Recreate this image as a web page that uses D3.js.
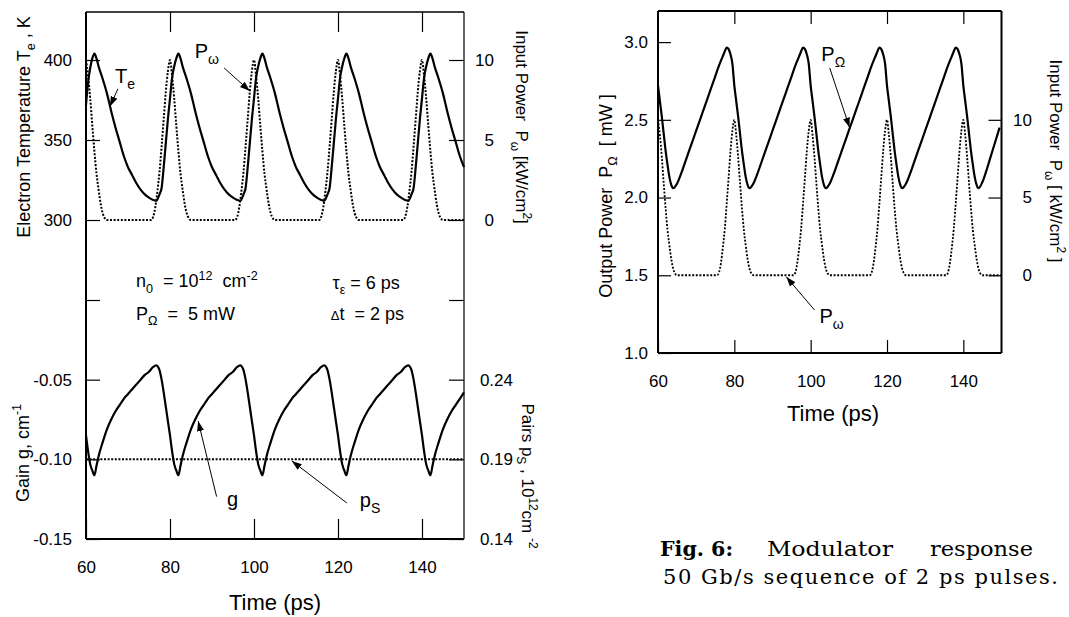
<!DOCTYPE html>
<html>
<head>
<meta charset="utf-8">
<script src="https://cdn.jsdelivr.net/npm/d3@7"></script>
<style>
body { margin: 0; background: #fff; }
svg { display: block; font-family: "Liberation Sans", Arial, sans-serif; }
text { white-space: pre; fill: #000; }
.tick line { stroke: #000; stroke-width: 1.2; }
.tick text { font-family: "Liberation Sans", Arial, sans-serif; font-size: 17px; fill: #000; }
</style>
</head>
<body>
<svg id="chart" width="1069" height="617"></svg>
<script>
// tick values
var timeTicks = [60, 80, 100, 120, 140];
var tempTicks = [300, 350, 400];
var gainTicks = [-0.15, -0.10, -0.05, 0];
var inputTicks = [0, 5, 10];
var pairTicks = [0.14, 0.19, 0.24, 0.29];
var outTicks = [1.0, 1.5, 2.0, 2.5, 3.0];

// electron temperature Te (K) vs time (ps)
var electronTemp = [
  [60,372],[60.5,386],[61,395],[61.5,401],
  [62,404],[62.5,401],[63,396],[64,388],[65,379],[66,368],[67,358],[68,349],[69,340],[70,333],[71,328],[72,323],[73,319],[74,316],[75,314],[76,312.5],[76.7,312],[77.5,316],[78,320],[78.5,333],[79,348],[79.5,363],[80,376],[80.5,389],[81,396],[81.5,401],
  [82,404],[82.5,401],[83,396],[84,388],[85,379],[86,368],[87,358],[88,349],[89,340],[90,333],[91,328],[92,323],[93,319],[94,316],[95,314],[96,312.5],[96.7,312],[97.5,316],[98,320],[98.5,333],[99,348],[99.5,363],[100,376],[100.5,389],[101,396],[101.5,401],
  [102,404],[102.5,401],[103,396],[104,388],[105,379],[106,368],[107,358],[108,349],[109,340],[110,333],[111,328],[112,323],[113,319],[114,316],[115,314],[116,312.5],[116.7,312],[117.5,316],[118,320],[118.5,333],[119,348],[119.5,363],[120,376],[120.5,389],[121,396],[121.5,401],
  [122,404],[122.5,401],[123,396],[124,388],[125,379],[126,368],[127,358],[128,349],[129,340],[130,333],[131,328],[132,323],[133,319],[134,316],[135,314],[136,312.5],[136.7,312],[137.5,316],[138,320],[138.5,333],[139,348],[139.5,363],[140,376],[140.5,389],[141,396],[141.5,401],
  [142,404],[142.5,401],[143,396],[144,388],[145,379],[146,368],[147,358],[148,349],[149,340],[150,333]
];

// input pulse power P_omega (kW/cm2), used in both panels
var inputPulse = [
  [60,10],[60.5,9.0],[61,7.6],[61.5,5.9],[62,4.3],[62.5,2.9],[63,1.9],[63.5,1.0],[64,0.4],[64.5,0.1],[65,0],
  [75.5,0],[76,0.2],[76.5,0.8],[77,1.8],[77.5,3.0],[78,4.6],[78.5,6.3],[79,8.0],[79.5,9.3],[80,10],
  [80.5,9.0],[81,7.6],[81.5,5.9],[82,4.3],[82.5,2.9],[83,1.9],[83.5,1.0],[84,0.4],[84.5,0.1],[85,0],
  [95.5,0],[96,0.2],[96.5,0.8],[97,1.8],[97.5,3.0],[98,4.6],[98.5,6.3],[99,8.0],[99.5,9.3],[100,10],
  [100.5,9.0],[101,7.6],[101.5,5.9],[102,4.3],[102.5,2.9],[103,1.9],[103.5,1.0],[104,0.4],[104.5,0.1],[105,0],
  [115.5,0],[116,0.2],[116.5,0.8],[117,1.8],[117.5,3.0],[118,4.6],[118.5,6.3],[119,8.0],[119.5,9.3],[120,10],
  [120.5,9.0],[121,7.6],[121.5,5.9],[122,4.3],[122.5,2.9],[123,1.9],[123.5,1.0],[124,0.4],[124.5,0.1],[125,0],
  [135.5,0],[136,0.2],[136.5,0.8],[137,1.8],[137.5,3.0],[138,4.6],[138.5,6.3],[139,8.0],[139.5,9.3],[140,10],
  [140.5,9.0],[141,7.6],[141.5,5.9],[142,4.3],[142.5,2.9],[143,1.9],[143.5,1.0],[144,0.4],[144.5,0.1],[145,0],[150,0]
];

// gain g (1/cm)
var gain = [
  [60,-0.085],[60.5,-0.095],[61,-0.103],[61.5,-0.107],
  [62,-0.110],[62.5,-0.104],[63,-0.098],[64,-0.089],[65,-0.081],[66,-0.075],[67,-0.070],[68,-0.066],[69,-0.062],[70,-0.059],[71,-0.056],[72,-0.053],[73,-0.050],[74,-0.047],[75,-0.045],[76,-0.042],[76.7,-0.041],[77.5,-0.044],[78,-0.050],[78.5,-0.058],[79,-0.067],[79.5,-0.076],[80,-0.085],[80.5,-0.095],[81,-0.103],[81.5,-0.107],
  [82,-0.110],[82.5,-0.104],[83,-0.098],[84,-0.089],[85,-0.081],[86,-0.075],[87,-0.070],[88,-0.066],[89,-0.062],[90,-0.059],[91,-0.056],[92,-0.053],[93,-0.050],[94,-0.047],[95,-0.045],[96,-0.042],[96.7,-0.041],[97.5,-0.044],[98,-0.050],[98.5,-0.058],[99,-0.067],[99.5,-0.076],[100,-0.085],[100.5,-0.095],[101,-0.103],[101.5,-0.107],
  [102,-0.110],[102.5,-0.104],[103,-0.098],[104,-0.089],[105,-0.081],[106,-0.075],[107,-0.070],[108,-0.066],[109,-0.062],[110,-0.059],[111,-0.056],[112,-0.053],[113,-0.050],[114,-0.047],[115,-0.045],[116,-0.042],[116.7,-0.041],[117.5,-0.044],[118,-0.050],[118.5,-0.058],[119,-0.067],[119.5,-0.076],[120,-0.085],[120.5,-0.095],[121,-0.103],[121.5,-0.107],
  [122,-0.110],[122.5,-0.104],[123,-0.098],[124,-0.089],[125,-0.081],[126,-0.075],[127,-0.070],[128,-0.066],[129,-0.062],[130,-0.059],[131,-0.056],[132,-0.053],[133,-0.050],[134,-0.047],[135,-0.045],[136,-0.042],[136.7,-0.041],[137.5,-0.044],[138,-0.050],[138.5,-0.058],[139,-0.067],[139.5,-0.076],[140,-0.085],[140.5,-0.095],[141,-0.103],[141.5,-0.107],
  [142,-0.110],[142.5,-0.104],[143,-0.098],[144,-0.089],[145,-0.081],[146,-0.075],[147,-0.070],[148,-0.066],[149,-0.062],[150,-0.058]
];

// pair density pS (1e12 cm-2)
var pairs = [[60,0.19],[150,0.19]];

// output power P_Omega (mW)
var outputPower = [
  [60,2.72],[60.5,2.62],[61,2.52],[61.5,2.41],[62,2.30],[62.5,2.21],[63,2.13],[63.5,2.08],
  [64,2.06],[65,2.09],[66,2.15],[67,2.22],[68,2.29],[69,2.36],[70,2.43],[71,2.50],[72,2.57],[73,2.64],[74,2.71],[75,2.78],[76,2.85],[77,2.91],[77.5,2.94],[78,2.965],[78.5,2.955],[79,2.92],[79.5,2.86],[80,2.72],[80.5,2.62],[81,2.52],[81.5,2.41],[82,2.30],[82.5,2.21],[83,2.13],[83.5,2.08],
  [84,2.06],[85,2.09],[86,2.15],[87,2.22],[88,2.29],[89,2.36],[90,2.43],[91,2.50],[92,2.57],[93,2.64],[94,2.71],[95,2.78],[96,2.85],[97,2.91],[97.5,2.94],[98,2.965],[98.5,2.955],[99,2.92],[99.5,2.86],[100,2.72],[100.5,2.62],[101,2.52],[101.5,2.41],[102,2.30],[102.5,2.21],[103,2.13],[103.5,2.08],
  [104,2.06],[105,2.09],[106,2.15],[107,2.22],[108,2.29],[109,2.36],[110,2.43],[111,2.50],[112,2.57],[113,2.64],[114,2.71],[115,2.78],[116,2.85],[117,2.91],[117.5,2.94],[118,2.965],[118.5,2.955],[119,2.92],[119.5,2.86],[120,2.72],[120.5,2.62],[121,2.52],[121.5,2.41],[122,2.30],[122.5,2.21],[123,2.13],[123.5,2.08],
  [124,2.06],[125,2.09],[126,2.15],[127,2.22],[128,2.29],[129,2.36],[130,2.43],[131,2.50],[132,2.57],[133,2.64],[134,2.71],[135,2.78],[136,2.85],[137,2.91],[137.5,2.94],[138,2.965],[138.5,2.955],[139,2.92],[139.5,2.86],[140,2.72],[140.5,2.62],[141,2.52],[141.5,2.41],[142,2.30],[142.5,2.21],[143,2.13],[143.5,2.08],
  [144,2.06],[145,2.10],[146,2.17],[147,2.25],[148,2.33],[149,2.41],[149.5,2.45]
];

var svg = d3.select("#chart");

// panel boxes
var L = {x0: 86, x1: 464, top: 12, mid: 300, bot: 539};
var R = {x0: 658, x1: 1001.5, top: 11, bot: 353};

var xL = d3.scaleLinear().domain([60, 150]).range([L.x0, L.x1]);
var yTemp = d3.scaleLinear().domain([250, 430]).range([L.mid, L.top]);
var yPin = d3.scaleLinear().domain([-5, 13]).range([L.mid, L.top]);
var yGain = d3.scaleLinear().domain([-0.15, 0]).range([L.bot, L.mid]);
var yPairs = d3.scaleLinear().domain([0.14, 0.29]).range([L.bot, L.mid]);

var xR = d3.scaleLinear().domain([60, 150]).range([R.x0, R.x1]);
var yOut = d3.scaleLinear().domain([1.0, 3.2]).range([R.bot, R.top]);
var yPinR = d3.scaleLinear().domain([-5, 17]).range([R.bot, R.top]);

// text with sub/superscripts
function rich(text, parts, size) {
    var shift = 0;
    parts.forEach(function(p) {
        var s = p[1] === "sub" ? 0.3 * size : p[1] === "sup" ? -0.42 * size : 0;
        text.append("tspan")
            .attr("dy", s - shift)
            .attr("font-size", p[1] ? size * 0.7 : size)
            .text(p[0]);
        shift = s;
    });
    return text;
}

svg.append("defs").append("marker")
    .attr("id", "head")
    .attr("viewBox", "0 -4 10 8")
    .attr("markerUnits", "userSpaceOnUse")
    .attr("markerWidth", 10).attr("markerHeight", 8)
    .attr("refX", 10).attr("refY", 0)
    .attr("orient", "auto")
    .append("path").attr("d", "M0,-3.5L10,0L0,3.5Z").attr("fill", "#000");

function frame(x0, x1, y0, y1, w) {
    var f = svg.append("g").attr("stroke", "#000").attr("fill", "none");
    f.append("line").attr("x1", x0).attr("x2", x1).attr("y1", y0).attr("y2", y0).attr("stroke-width", w[0]);
    f.append("line").attr("x1", x1).attr("x2", x1).attr("y1", y0).attr("y2", y1).attr("stroke-width", w[1]);
    f.append("line").attr("x1", x0).attr("x2", x1).attr("y1", y1).attr("y2", y1).attr("stroke-width", w[2]);
    f.append("line").attr("x1", x0).attr("x2", x0).attr("y1", y0).attr("y2", y1).attr("stroke-width", w[3]);
}

function noDomain(g) { g.select(".domain").remove(); }

// ---------- left panel ----------
frame(L.x0, L.x1, L.top, L.bot, [1.4, 1.2, 2, 2]);

svg.append("g").attr("transform", "translate(" + L.x0 + ",0)")
    .call(d3.axisLeft(yTemp).tickValues(tempTicks).tickSizeInner(-14).tickSizeOuter(0).tickPadding(14))
    .call(noDomain);
svg.append("g").attr("transform", "translate(" + L.x0 + ",0)")
    .call(d3.axisLeft(yGain).tickValues(gainTicks).tickSizeInner(-14).tickSizeOuter(0).tickPadding(14)
        .tickFormat(function(d) { return d === 0 ? "" : d.toFixed(2); }))
    .call(noDomain);
svg.append("g").attr("transform", "translate(" + L.x1 + ",0)")
    .call(d3.axisRight(yPin).tickValues(inputTicks).tickSizeInner(-15).tickSizeOuter(0))
    .call(noDomain)
    .call(function(g) { g.selectAll("text").attr("text-anchor", "end").attr("x", 30); });
svg.append("g").attr("transform", "translate(" + L.x1 + ",0)")
    .call(d3.axisRight(yPairs).tickValues(pairTicks).tickSizeInner(-15).tickSizeOuter(0)
        .tickFormat(function(d) { return d > 0.28 ? "" : d.toFixed(2); }))
    .call(noDomain)
    .call(function(g) { g.selectAll("text").attr("text-anchor", "end").attr("x", 49); });
svg.append("g").attr("transform", "translate(0," + L.top + ")")
    .call(d3.axisTop(xL).tickValues(timeTicks.slice(1)).tickSizeInner(-20).tickSizeOuter(0).tickFormat(""))
    .call(noDomain);
svg.append("g").attr("transform", "translate(0," + L.bot + ")")
    .call(d3.axisBottom(xL).tickValues(timeTicks).tickSizeInner(-20).tickSizeOuter(0).tickPadding(22))
    .call(noDomain);

var solid = function(sel) { return sel.attr("fill", "none").attr("stroke", "#000").attr("stroke-width", 2.2).attr("stroke-linejoin", "round"); };
var dotted = function(sel) { return sel.attr("fill", "none").attr("stroke", "#000").attr("stroke-width", 2).attr("stroke-dasharray", "2,1.6"); };

svg.append("path").datum(inputPulse).call(dotted)
    .attr("d", d3.line().x(function(d) { return xL(d[0]); }).y(function(d) { return yPin(d[1]); }).curve(d3.curveMonotoneX));
svg.append("path").datum(electronTemp).call(solid)
    .attr("d", d3.line().x(function(d) { return xL(d[0]); }).y(function(d) { return yTemp(d[1]); }).curve(d3.curveMonotoneX));
svg.append("path").datum(pairs).call(dotted)
    .attr("d", d3.line().x(function(d) { return xL(d[0]); }).y(function(d) { return yPairs(d[1]); }));
svg.append("path").datum(gain).call(solid)
    .attr("d", d3.line().x(function(d) { return xL(d[0]); }).y(function(d) { return yGain(d[1]); }).curve(d3.curveMonotoneX));

function arrow(x, y, tail, tip) {
    svg.append("line")
        .attr("x1", x(tail[0])).attr("y1", y(tail[1]))
        .attr("x2", x(tip[0])).attr("y2", y(tip[1]))
        .attr("stroke", "#000").attr("stroke-width", 1)
        .attr("marker-end", "url(#head)");
}
function label(x, y, at, parts, anchor) {
    rich(svg.append("text").attr("x", x(at[0])).attr("y", y(at[1]))
        .attr("text-anchor", anchor || "start"), parts, 20);
}

label(xL, yTemp, [66.9, 385.5], [["T"], ["e", "sub"]]);
arrow(xL, yTemp, [67.6, 382], [65.7, 371]);
label(xL, yTemp, [85.9, 401.2], [["P"], ["ω", "sub"]]);
arrow(xL, yTemp, [92.9, 395], [99.0, 380.6]);
label(xL, yGain, [94.9, -0.1293], [["g"]], "middle");
arrow(xL, yGain, [91.1, -0.1234], [86.7, -0.076]);
label(xL, yGain, [125.2, -0.1299], [["p"], ["S", "sub"]]);
arrow(xL, yGain, [122.1, -0.1274], [109, -0.101]);

// parameters block
var params = svg.append("g").attr("font-size", 18);
rich(params.append("text").attr("x", xL(71.9)).attr("y", yTemp(258)),
    [["n"], ["0", "sub"], ["  = 10"], ["12", "sup"], ["  cm"], ["-2", "sup"]], 18);
rich(params.append("text").attr("x", xL(71.9)).attr("y", yGain(-0.0125)),
    [["P"], ["Ω", "sub"], ["  =  5 mW"]], 18);
rich(params.append("text").attr("x", xL(118.7)).attr("y", yTemp(257)),
    [["τ"], ["ε", "sub"], [" = 6 ps"]], 18);
params.append("text").attr("x", xL(118.3)).attr("y", yGain(-0.0125))
    .call(function(t) {
        t.append("tspan").attr("font-size", 13).text("Δ");
        t.append("tspan").attr("font-size", 18).text("t  = 2 ps");
    });

// axis titles
rich(svg.append("text").attr("transform", "translate(30,127) rotate(-90)").attr("text-anchor", "middle"),
    [["Electron Temperature T"], ["e", "sub"], [" , K"]], 18);
rich(svg.append("text").attr("transform", "translate(29,453) rotate(-90)").attr("text-anchor", "middle"),
    [["Gain g, cm"], ["-1", "sup"]], 18);
rich(svg.append("text").attr("transform", "translate(516,127) rotate(90)").attr("text-anchor", "middle"),
    [["Input Power  P"], ["ω", "sub"], [" [kW/cm"], ["2", "sup"], ["]"]], 17);
rich(svg.append("text").attr("transform", "translate(522,476) rotate(90)").attr("text-anchor", "middle"),
    [["Pairs p"], ["S", "sub"], [" , 10"], ["12", "sup"], ["cm "], ["-2", "sup"]], 17);
svg.append("text").attr("x", (L.x0 + L.x1) / 2).attr("y", 610)
    .attr("text-anchor", "middle").attr("font-size", 22).text("Time (ps)");

// ---------- right panel ----------
frame(R.x0, R.x1, R.top, R.bot, [2, 2, 2, 2]);

svg.append("g").attr("transform", "translate(" + R.x0 + ",0)")
    .call(d3.axisLeft(yOut).tickValues(outTicks).tickSizeInner(-13).tickSizeOuter(0).tickPadding(10)
        .tickFormat(function(d) { return d.toFixed(1); }))
    .call(noDomain);
svg.append("g").attr("transform", "translate(" + R.x1 + ",0)")
    .call(d3.axisRight(yPinR).tickValues(inputTicks).tickSizeInner(-13).tickSizeOuter(0))
    .call(noDomain)
    .call(function(g) { g.selectAll("text").attr("text-anchor", "end").attr("x", 30.5); });
svg.append("g").attr("transform", "translate(0," + R.top + ")")
    .call(d3.axisTop(xR).tickValues(timeTicks.slice(1)).tickSizeInner(-13).tickSizeOuter(0).tickFormat(""))
    .call(noDomain);
svg.append("g").attr("transform", "translate(0," + R.bot + ")")
    .call(d3.axisBottom(xR).tickValues(timeTicks).tickSizeInner(-13).tickSizeOuter(0).tickPadding(22))
    .call(noDomain);

svg.append("path").datum(inputPulse).call(dotted).attr("stroke-width", 1.8)
    .attr("d", d3.line().x(function(d) { return xR(d[0]); }).y(function(d) { return yPinR(d[1]); }).curve(d3.curveMonotoneX));
svg.append("path").datum(outputPower).call(solid)
    .attr("d", d3.line().x(function(d) { return xR(d[0]); }).y(function(d) { return yOut(d[1]); }).curve(d3.curveMonotoneX));

label(xR, yOut, [102.8, 2.878], [["P"], ["Ω", "sub"]]);
arrow(xR, yOut, [105.0, 2.833], [110.2, 2.45]);
label(xR, yOut, [102.3, 1.193], [["P"], ["ω", "sub"]]);
arrow(xR, yOut, [101.0, 1.277], [93.6, 1.49]);

rich(svg.append("text").attr("transform", "translate(612,196) rotate(-90)").attr("text-anchor", "middle"),
    [["Output Power  P"], ["Ω", "sub"], ["  [ mW ]"]], 18);
rich(svg.append("text").attr("transform", "translate(1050,161) rotate(90)").attr("text-anchor", "middle"),
    [["Input Power  P"], ["ω", "sub"], [" [ kW/cm"], ["2", "sup"], [" ]"]], 17);
svg.append("text").attr("x", 833).attr("y", 421)
    .attr("text-anchor", "middle").attr("font-size", 22).text("Time (ps)");

// caption
var cap = svg.append("g").attr("font-family", "'DejaVu Serif', 'Liberation Serif', serif").attr("font-size", 21);
cap.append("text").attr("x", 660).attr("y", 556).attr("font-weight", "bold")
    .attr("textLength", 73).attr("lengthAdjust", "spacingAndGlyphs").text("Fig. 6:");
cap.append("text").attr("x", 767).attr("y", 556)
    .attr("textLength", 126).attr("lengthAdjust", "spacingAndGlyphs").text("Modulator");
cap.append("text").attr("x", 930).attr("y", 556)
    .attr("textLength", 103).attr("lengthAdjust", "spacingAndGlyphs").text("response");
cap.append("text").attr("x", 663).attr("y", 584)
    .attr("textLength", 395).attr("lengthAdjust", "spacing").text("50 Gb/s sequence of 2 ps pulses.");
</script>
</body>
</html>
